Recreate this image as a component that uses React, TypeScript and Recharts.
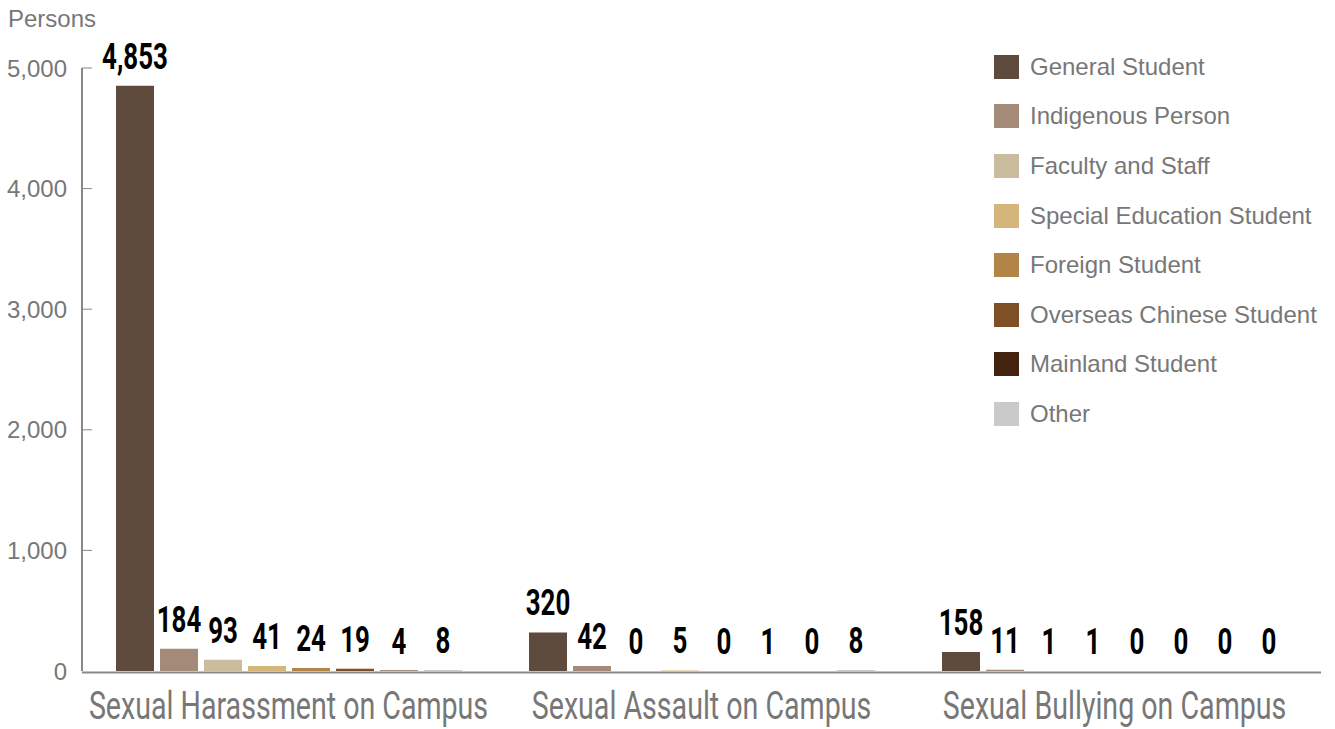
import { BarChart, Bar, XAxis, YAxis, Legend, LabelList } from 'recharts';

const categories = [
  'Sexual Harassment on Campus',
  'Sexual Assault on Campus',
  'Sexual Bullying on Campus',
];

const generalStudent = [4853, 320, 158];
const indigenousPerson = [184, 42, 11];
const facultyAndStaff = [93, 0, 1];
const specialEducationStudent = [41, 5, 1];
const foreignStudent = [24, 0, 0];
const overseasChineseStudent = [19, 1, 0];
const mainlandStudent = [4, 0, 0];
const other = [8, 8, 0];

const yTicks = [0, 1000, 2000, 3000, 4000, 5000];

const series = [
  { key: 'general', name: 'General Student', values: generalStudent, color: '#5f4b3d' },
  { key: 'indigenous', name: 'Indigenous Person', values: indigenousPerson, color: '#a48a78' },
  { key: 'faculty', name: 'Faculty and Staff', values: facultyAndStaff, color: '#c9bd9e' },
  { key: 'specialEd', name: 'Special Education Student', values: specialEducationStudent, color: '#d4b57a' },
  { key: 'foreign', name: 'Foreign Student', values: foreignStudent, color: '#b38448' },
  { key: 'overseas', name: 'Overseas Chinese Student', values: overseasChineseStudent, color: '#7f5026' },
  { key: 'mainland', name: 'Mainland Student', values: mainlandStudent, color: '#43220f' },
  { key: 'other', name: 'Other', values: other, color: '#cacaca' },
];

const chartData = categories.map((name, i) => ({
  name,
  ...Object.fromEntries(series.map(s => [s.key, s.values[i]])),
}));

const GREY = '#777';
const AXIS = '#888';
const SANS = '"Liberation Sans", Arial, sans-serif';

const BarLabel = (props: any) => {
  const { x, y, width, value } = props;
  const cx = Number(x) + Number(width) / 2;
  return (
    <g transform={`translate(${cx},${Number(y) - 17}) scale(0.7,1)`}>
      <text textAnchor="middle" fontFamily="Roboto" fontWeight={700} fontSize={37} fill="#000">
        {Number(value).toLocaleString('en-US')}
      </text>
    </g>
  );
};

const XTick = (props: any) => {
  const { x, y, payload } = props;
  return (
    <g transform={`translate(${x},${y + 48}) scale(0.726,1)`}>
      <text textAnchor="middle" fontFamily="Roboto" fontSize={39.4} fill={GREY}>
        {payload.value}
      </text>
    </g>
  );
};

const YTick = (props: any) => {
  const { x, y, payload } = props;
  return (
    <g>
      {payload.value !== 0 && <line x1={x} x2={x + 10} y1={y} y2={y} stroke={AXIS} strokeWidth={1} />}
      <text x={x - 15} y={y + 8.5} textAnchor="end" fontFamily={SANS} fontSize={24} fill={GREY}>
        {Number(payload.value).toLocaleString('en-US')}
      </text>
    </g>
  );
};

// legend drawn in the series order (recharts sorts its payload by name)
const LegendBox = () => (
  <div>
    {series.map(s => (
      <div key={s.key} style={{ display: 'flex', alignItems: 'center', height: 49.6 }}>
        <span style={{ width: 25, height: 24, background: s.color, marginRight: 11, display: 'inline-block' }} />
        <span style={{ fontFamily: SANS, fontSize: 24, color: GREY, whiteSpace: 'nowrap' }}>{s.name}</span>
      </div>
    ))}
  </div>
);

export default function App() {
  return (
    <div style={{ position: 'absolute', left: 0, top: 0, width: 1335, height: 729, background: '#fff' }}>
      <div style={{ position: 'absolute', left: 8, top: 5, fontFamily: SANS, fontSize: 24, color: GREY }}>
        Persons
      </div>
      <BarChart
        width={1335}
        height={729}
        data={chartData}
        margin={{ top: 68, right: 14, bottom: 0, left: 0 }}
        barSize={38}
        barGap={6}
      >
        <XAxis
          dataKey="name"
          height={58}
          tickSize={0}
          tickMargin={0}
          tickLine={false}
          axisLine={{ stroke: AXIS, strokeWidth: 2, transform: 'translate(0,1.5)' }}
          tick={<XTick />}
          interval={0}
        />
        <YAxis
          width={82}
          domain={[0, 5000]}
          ticks={yTicks}
          tickSize={0}
          tickMargin={0}
          tickLine={false}
          axisLine={{ stroke: AXIS, strokeWidth: 2 }}
          tick={<YTick />}
        />
        <Legend
          layout="vertical"
          align="center"
          verticalAlign="middle"
          wrapperStyle={{ left: 994, top: 42 }}
          content={<LegendBox />}
        />
        {series.map(s => (
          <Bar
            key={s.key}
            dataKey={s.key}
            name={s.name}
            fill={s.color}
            minPointSize={0.01}
            isAnimationActive={false}
          >
            <LabelList dataKey={s.key} content={<BarLabel />} />
          </Bar>
        ))}
      </BarChart>
    </div>
  );
}
